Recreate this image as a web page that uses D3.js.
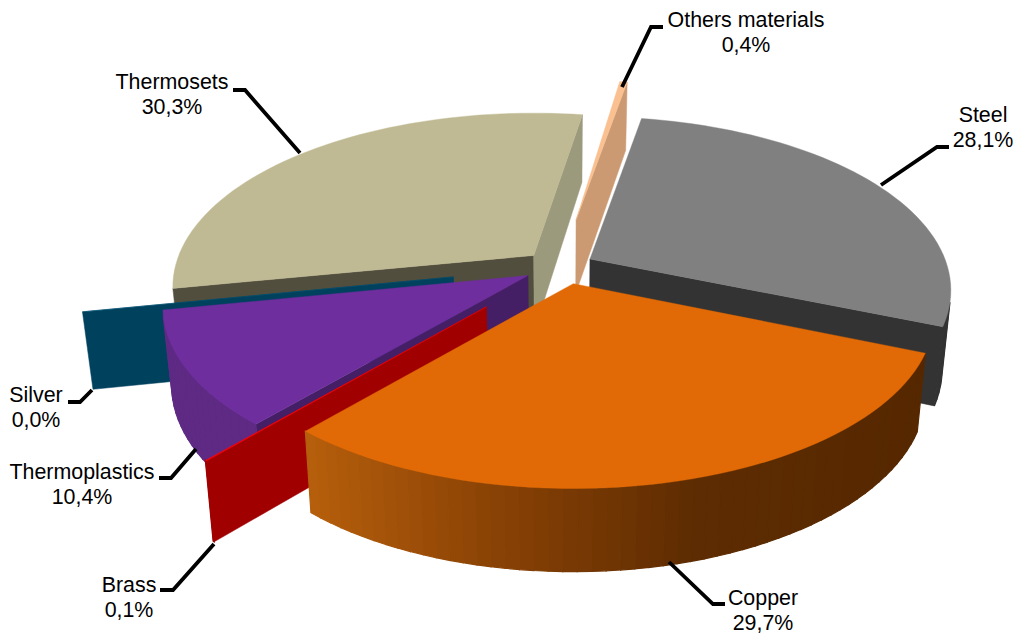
<!DOCTYPE html>
<html>
<head>
<meta charset="utf-8">
<script src="https://cdn.jsdelivr.net/npm/d3@7/dist/d3.min.js"></script>
<style>
body { margin: 0; background: #fff; }
text { font-family: "Liberation Sans", Arial, sans-serif; font-size: 21.4px; fill: #000; }
</style>
</head>
<body>
<svg id="chart" width="1016" height="635"></svg>
<script>
// data, clockwise from the top
var categories = ["Others materials", "Steel", "Copper", "Brass", "Thermoplastics", "Silver", "Thermosets"];
var values = [0.4, 28.1, 29.7, 0.06, 10.4, 0.02, 30.3];
var explode = [0.3, 0.1, 0.1, 0.3, 0.1, 0.3, 0.1];

// small per slice corrections to follow the reference's perspective
var radiusFit = [0.98, 1, 1, 1.045, 1.012, 1.028, 1];
var turnFit = [-0.5, -0.6, 0, 0, 0, 0, 0.3];
var shiftFit = [0, 0, 6, 0, 0, 0, 0];

// colours: top face, start wall, end wall, outer wall
var topColors = ["#FAC090", "#808080", "#E26A06", "#FF0000", "#6F2E9E", "#005272", "#BFBA93"];
var startWalls = ["#CC9A72", "#333333", "#8A4406", "#A00000", "#451F66", "#00415E", "#524E3E"];
var endWalls = ["#CC9A72", "#333333", "#8A4406", "#A00000", "#451F66", "#00415E", "#9C9A7C"];
var outerWalls = ["#CC9A72", "#333333", null, "#A00000", "#5E2A84", "#00415E", "#524E3E"];
var copperWall = d3.scaleLinear().domain([303, 500, 700, 925]).range(["#B8600C", "#8A4205", "#5E2C02", "#562800"]);

// paint order, back to front
var paintOrder = [6, 0, 1, 5, 4, 3, 2];

// leader lines and label anchors, same order as categories
var leaders = [
    [[622, 87], [651, 27], [663, 27]],
    [[881, 185], [937, 147], [949, 147]],
    [[669, 562], [713, 604], [725, 604]],
    [[214, 544], [173, 590], [160, 590]],
    [[196, 449], [171, 478], [159, 478]],
    [[92, 390], [80, 402], [68, 402]],
    [[300, 153], [245, 90], [233, 90]]
];
var labelAt = [[746, 27], [983, 122], [763, 605], [129, 592], [82, 479], [36, 402], [172, 89]];

var cx = 559, cy = 267, rx = 355, ry = 168, persp = 0.18;
var startDeg = 9;

var svg = d3.select("#chart");
var fmt = d3.formatLocale({decimal: ",", thousands: ".", grouping: [3], currency: ["", ""]}).format(".1f");

var pie = d3.pie().sort(null).startAngle(startDeg * Math.PI / 180).endAngle((startDeg + 360) * Math.PI / 180);
var arcs = pie(values);
var line = d3.line().curve(d3.curveLinearClosed);

// ground position (u right, v back, radius 1) to screen, around the given origin
function project(u, v, ox, oy) {
    var s = 1 / (1 + persp * v);
    return [ox + rx * u * s, oy - ry * v * s, v];
}
// drop a top point to the bottom plane
function drop(p) {
    return [cx + (p[0] - cx) * 0.978, cy + (p[1] - cy) * 0.978 + 76 - 12 * p[2]];
}

function drawFace(pts, color, width) {
    if (d3.polygonArea(pts) <= 0) return;
    svg.append("path").attr("d", line(pts)).attr("fill", color).attr("stroke", color).attr("stroke-width", width);
}

function xy(p) { return [p[0], p[1]]; }

paintOrder.forEach(function(i) {
    var a = arcs[i];
    var mid = (a.startAngle + a.endAngle) / 2;
    var turn = turnFit[i] * Math.PI / 180;
    var apex = project(explode[i] * Math.sin(mid), explode[i] * Math.cos(mid), cx + shiftFit[i], cy);
    var n = Math.max(2, Math.ceil((a.endAngle - a.startAngle) / (Math.PI / 90)));
    var rim = d3.range(n + 1).map(function(k) {
        var t = a.startAngle + turn + (a.endAngle - a.startAngle) * k / n;
        var p = project(Math.sin(t), Math.cos(t), 0, 0);
        return [apex[0] + p[0] * radiusFit[i], apex[1] + p[1] * radiusFit[i], p[2]];
    });
    var first = rim[0], last = rim[n];

    // walls, only the ones that face the viewer get drawn
    drawFace([apex, first, drop(first), drop(apex)].map(xy), startWalls[i], 0.5);
    drawFace([last, apex, drop(apex), drop(last)].map(xy), endWalls[i], 0.5);
    for (var k = 0; k < n; k++) {
        var c = outerWalls[i] || copperWall(rim[k][0]);
        drawFace([rim[k], rim[k + 1], drop(rim[k + 1]), drop(rim[k])].map(xy), c, 1.2);
    }

    svg.append("path")
        .attr("d", line([apex].concat(rim).map(xy)))
        .attr("fill", topColors[i])
        .attr("stroke", topColors[i])
        .attr("stroke-width", 0.4);
});

// leaders
svg.selectAll("path.leader")
    .data(leaders)
    .enter()
    .append("path")
    .attr("class", "leader")
    .attr("d", d3.line())
    .attr("fill", "none")
    .attr("stroke", "#000")
    .attr("stroke-width", 3.8);

// labels
var labels = svg.selectAll("text.label")
    .data(categories)
    .enter()
    .append("text")
    .attr("class", "label")
    .attr("text-anchor", "middle")
    .attr("transform", function(d, i) { return "translate(" + labelAt[i][0] + "," + labelAt[i][1] + ")"; });
labels.append("tspan").attr("x", 0).attr("y", 0).text(function(d) { return d; });
labels.append("tspan").attr("x", 0).attr("y", 25).text(function(d, i) { return fmt(values[i]) + "%"; });
</script>
</body>
</html>
